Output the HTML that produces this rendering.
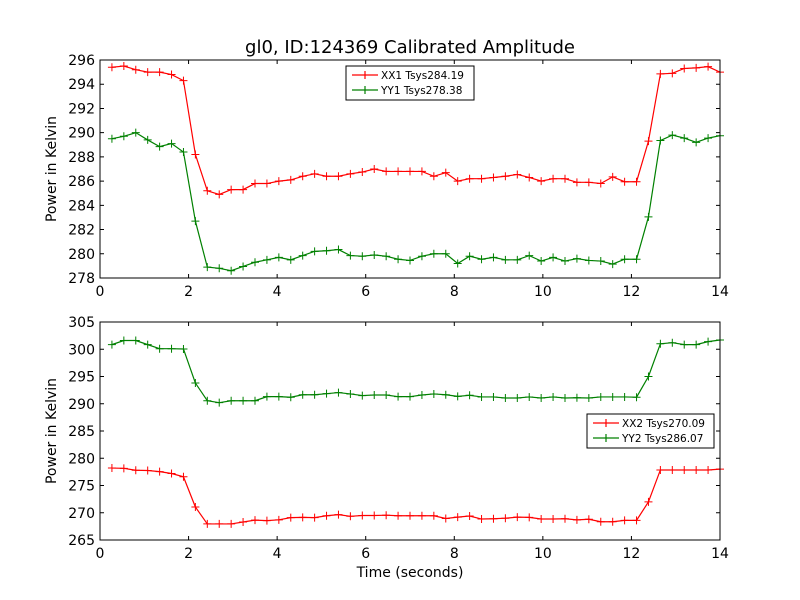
<!DOCTYPE html>
<html><head><meta charset="utf-8"><style>
body{margin:0;background:#fff}
svg{display:block;font-family:"DejaVu Sans","Liberation Sans",sans-serif}
</style></head><body>
<svg id="chart" width="800" height="600" viewBox="0 0 800 600">
<rect width="800" height="600" fill="#fff"/>
</svg>
<script>
const N = 52;
const xx1 = [295.4,295.5,295.2,295.0,295.0,294.8,294.3,288.2,285.2,284.9,285.3,285.3,285.8,285.8,286.0,286.1,286.4,286.6,286.4,286.4,286.6,286.75,287.0,286.8,286.8,286.8,286.8,286.4,286.7,286.0,286.2,286.2,286.3,286.4,286.55,286.3,286.0,286.2,286.2,285.9,285.9,285.8,286.35,285.95,285.95,289.3,294.85,294.9,295.3,295.35,295.45,295.0];
const yy1 = [289.5,289.7,290.0,289.4,288.85,289.1,288.4,282.7,278.9,278.8,278.6,278.95,279.3,279.5,279.7,279.5,279.85,280.2,280.25,280.35,279.85,279.8,279.9,279.8,279.55,279.45,279.8,280.0,280.0,279.2,279.8,279.55,279.7,279.5,279.5,279.85,279.4,279.7,279.4,279.6,279.45,279.4,279.15,279.55,279.55,283.05,289.35,289.8,289.55,289.2,289.55,289.75];
const xx2 = [278.2,278.15,277.8,277.75,277.55,277.2,276.6,271.05,267.95,267.95,267.95,268.3,268.65,268.55,268.7,269.1,269.15,269.1,269.45,269.65,269.35,269.5,269.5,269.55,269.45,269.45,269.45,269.45,268.95,269.2,269.4,268.85,268.9,269.0,269.2,269.15,268.85,268.85,268.9,268.7,268.8,268.35,268.35,268.6,268.6,272.0,277.85,277.85,277.85,277.85,277.85,278.0];
const yy2 = [300.85,301.6,301.6,300.85,300.1,300.1,300.05,293.8,290.55,290.2,290.55,290.55,290.55,291.3,291.3,291.2,291.65,291.65,291.85,292.05,291.8,291.5,291.6,291.6,291.3,291.3,291.6,291.8,291.65,291.35,291.55,291.25,291.25,291.05,291.05,291.25,291.05,291.25,291.05,291.1,291.05,291.25,291.25,291.25,291.2,295.0,301.0,301.2,300.85,300.85,301.4,301.7];
const times = Array.from({length:N},(_,i)=>(i+1)*14/N);
const xTicks = [0,2,4,6,8,10,12,14];
const topTicks = [278,280,282,284,286,288,290,292,294,296];
const botTicks = [265,270,275,280,285,290,295,300,305];

const svg = document.getElementById('chart');
const NS='http://www.w3.org/2000/svg';
function el(tag, attrs, parent){const e=document.createElementNS(NS,tag);for(const k in attrs)e.setAttribute(k,attrs[k]);(parent||svg).appendChild(e);return e;}
const X0=100,X1=720;
const xs = t => X0 + (t/14)*(X1-X0);

function panel(name, top, bot, ymin, ymax, yTicks, series, legend){
  const g = el('g',{});
  
  
  const ys = v => bot - (v-ymin)/(ymax-ymin)*(bot-top);
  el('rect',{x:X0,y:top,width:X1-X0,height:bot-top,fill:'#fff'},g);
  series.forEach(s=>{
    const pts = s.data.map((v,i)=>xs(times[i]).toFixed(2)+','+ys(v).toFixed(2)).join(' ');
    const pl = el('polyline',{points:pts,fill:'none',stroke:s.color,'stroke-width':1.2},g);
    
    
    s.data.forEach((v,i)=>{
      const cx=xs(times[i]), cy=ys(v);
      el('path',{d:`M${cx-4},${cy}H${cx+4}M${cx},${cy-4}V${cy+4}`,stroke:s.color,'stroke-width':1},g);
    });
  });
  el('rect',{x:X0,y:top,width:X1-X0,height:bot-top,fill:'none',stroke:'#000','stroke-width':1},g);
  xTicks.forEach(t=>{
    const x=xs(t);
    el('path',{d:`M${x},${bot}v-4M${x},${top}v4`,stroke:'#000'},g);
    const tx=el('text',{x:x,y:bot+18,'text-anchor':'middle','font-size':14},g);tx.textContent=t;
  });
  yTicks.forEach(t=>{
    const y=ys(t);
    el('path',{d:`M${X0},${y}h4M${X1},${y}h-4`,stroke:'#000'},g);
    const tx=el('text',{x:X0-5,y:y+5,'text-anchor':'end','font-size':14},g);tx.textContent=t;
  });
  const yl=el('text',{x:0,y:0,'text-anchor':'middle','font-size':14,transform:`translate(56,${(top+bot)/2}) rotate(-90)`},g);
  yl.textContent='Power in Kelvin';
  const lg=el('g',{},g);
  
  
  el('rect',{x:legend.x,y:legend.y,width:legend.w,height:34,fill:'#fff',stroke:'#000','stroke-width':1},lg);
  series.forEach((s,k)=>{
    const cy=legend.y+9+k*15;
    el('path',{d:`M${legend.x+6},${cy}h26M${legend.x+19},${cy-4}v8`,stroke:s.color,'stroke-width':1.2},lg);
    const t=el('text',{x:legend.x+35,y:cy+4,'font-size':10.5},lg);t.textContent=s.label;
  });
}
panel('top-panel',60,278,278,296,topTicks,
  [{name:'xx1',data:xx1,color:'#ff0000',label:'XX1 Tsys284.19'},{name:'yy1',data:yy1,color:'#008000',label:'YY1 Tsys278.38'}],
  {x:346,y:66,w:128});
panel('bottom-panel',322,540,265,305,botTicks,
  [{name:'xx2',data:xx2,color:'#ff0000',label:'XX2 Tsys270.09'},{name:'yy2',data:yy2,color:'#008000',label:'YY2 Tsys286.07'}],
  {x:587,y:414,w:127});
const title=el('text',{x:410,y:53,'text-anchor':'middle','font-size':18});


title.textContent='gl0, ID:124369 Calibrated Amplitude';
const xl=el('text',{x:410,y:577,'text-anchor':'middle','font-size':14});


xl.textContent='Time (seconds)';
</script>
</body></html>
